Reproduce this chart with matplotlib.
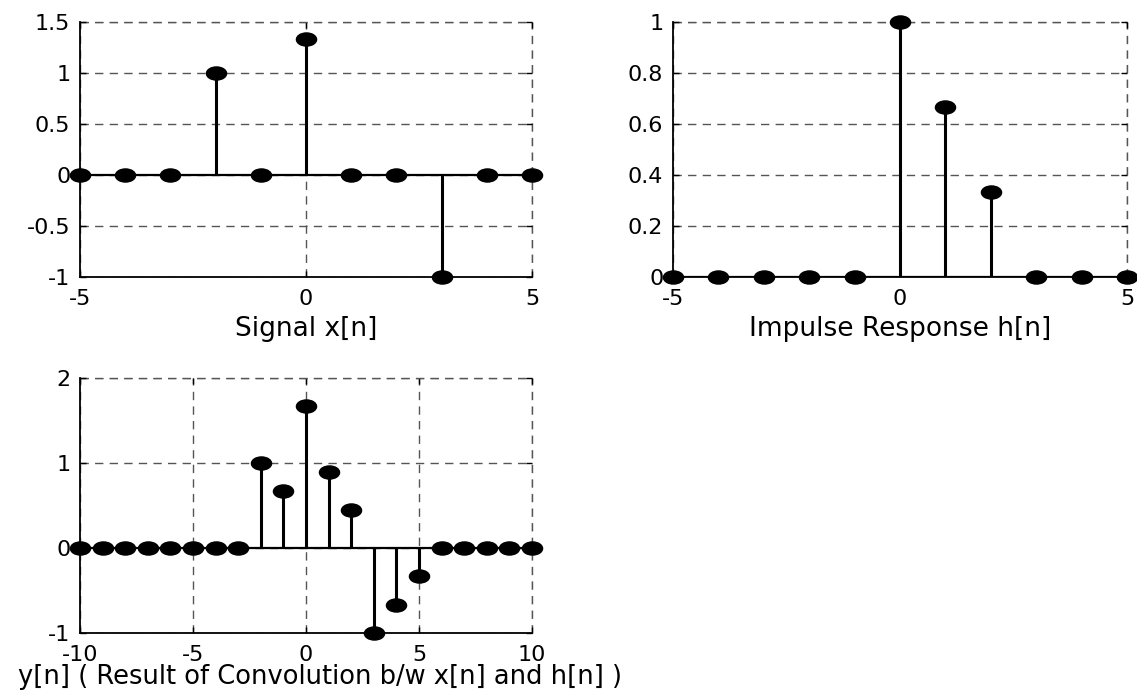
import numpy as np
import matplotlib
matplotlib.use("Agg")
import matplotlib.pyplot as plt
from matplotlib.path import Path
from matplotlib.transforms import Affine2D

plt.rcParams['font.family'] = ['DejaVu Sans']
plt.rcParams['axes.unicode_minus'] = False

# Data
n_x = [-5, -4, -3, -2, -1, 0, 1, 2, 3, 4, 5]
x_vals = [0, 0, 0, 1, 0, 1.333, 0, 0, -1, 0, 0]

n_h = [-5, -4, -3, -2, -1, 0, 1, 2, 3, 4, 5]
h_vals = [0, 0, 0, 0, 0, 1, 0.667, 0.333, 0, 0, 0]

n_y = list(range(-10, 11))
y_vals = [0, 0, 0, 0, 0, 0, 0, 0, 1, 0.667, 1.667, 0.889, 0.444, -1, -0.667, -0.333,
          0, 0, 0, 0, 0]

x_label_1 = "Signal x[n]"
x_label_2 = "Impulse Response h[n]"
x_label_3 = "y[n] ( Result of Convolution b/w x[n] and h[n] )"

# elliptical marker (the reference is horizontally stretched)
ell = Path.unit_circle().transformed(Affine2D().scale(1.0, 0.65))

fig = plt.figure(figsize=(11.37, 6.92), dpi=100)

GRID = dict(linestyle=(0, (6, 4.5)), color='#555555', linewidth=1.0)

def make_axes(rect, n, v, xlim, ylim, xticks, yticks, ytlabels, xlabel,
              labelsize, labelpad):
    ax = fig.add_axes(rect)
    ml, sl, bl = ax.stem(n, v, linefmt='k-', markerfmt='ko', basefmt='k-')
    sl.set_linewidth(2.2)
    bl.set_linewidth(1.6)
    ml.set_marker(ell)
    ml.set_markersize(14.5)
    ml.set_color('black')
    ml.set_zorder(4)
    ml.set_clip_on(False)
    ax.set_xlim(*xlim)
    ax.set_ylim(*ylim)
    ax.set_xticks(xticks)
    ax.set_xticklabels([str(t) for t in xticks])
    ax.set_yticks(yticks)
    ax.set_yticklabels(ytlabels)
    ax.grid(True, **GRID)
    ax.set_axisbelow(True)
    for s in ['top', 'right']:
        ax.spines[s].set_visible(False)
    for s in ['left', 'bottom']:
        ax.spines[s].set_linewidth(1.3)
    ax.tick_params(direction='in', length=4, width=1, labelsize=16,
                   top=True, right=True)
    ax.tick_params(axis='x', pad=8.5)
    ax.tick_params(axis='y', pad=7)
    ax.axhline(ylim[1], zorder=0.5, clip_on=False, **GRID)
    ax.axvline(xlim[1], zorder=0.5, clip_on=False, **GRID)
    ax.set_xlabel(xlabel, fontsize=labelsize, labelpad=labelpad)
    return ax

make_axes([0.0704, 0.5997, 0.3975, 0.3685], n_x, x_vals, (-5, 5), (-1, 1.5),
          [-5, 0, 5], [-1, -0.5, 0, 0.5, 1, 1.5],
          ['-1', '-0.5', '0', '0.5', '1', '1.5'], x_label_1, 19, 5.5)
make_axes([0.5919, 0.5997, 0.3993, 0.3685], n_h, h_vals, (-5, 5), (0, 1),
          [-5, 0, 5], [0, 0.2, 0.4, 0.6, 0.8, 1],
          ['0', '0.2', '0.4', '0.6', '0.8', '1'], x_label_2, 19, 5.5)
ax3 = make_axes([0.0704, 0.0853, 0.3975, 0.3685], n_y, y_vals, (-10, 10), (-1, 2),
                [-10, -5, 0, 5, 10], [-1, 0, 1, 2],
                ['-1', '0', '1', '2'], x_label_3, 18.5, 3)
ax3.xaxis.set_label_coords(0.531, -0.12)

fig.savefig("out.png", dpi=100)
